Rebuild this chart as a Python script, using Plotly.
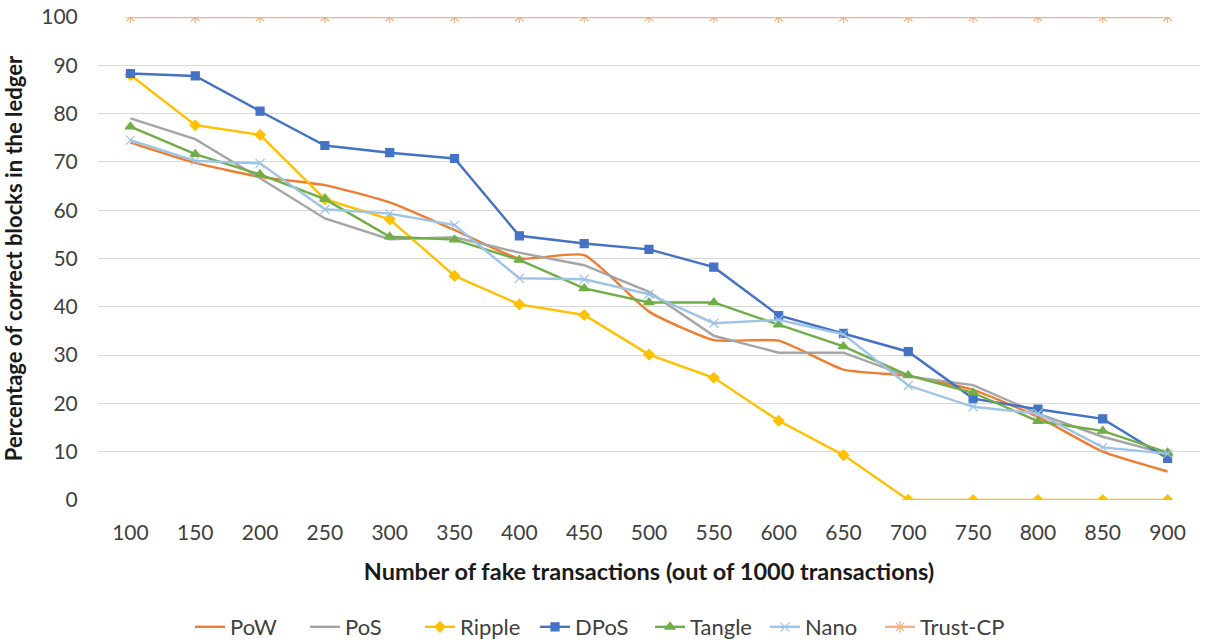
import plotly.graph_objects as go

x_vals = [100, 150, 200, 250, 300, 350, 400, 450, 500, 550, 600, 650, 700, 750, 800, 850, 900]
pow_vals = [74.0, 69.8, 66.9, 65.2, 61.6, 55.9, 50.0, 50.7, 39.0, 33.1, 33.0, 27.0, 25.7, 22.8, 17.2, 10.0, 5.9]
pos_vals = [79.0, 74.7, 66.6, 58.3, 54.0, 54.4, 51.2, 48.6, 43.1, 34.0, 30.5, 30.5, 25.6, 23.8, 17.9, 13.1, 9.5]
ripple_vals = [88.0, 77.6, 75.6, 62.3, 58.1, 46.4, 40.5, 38.3, 30.1, 25.3, 16.4, 9.3, 0, 0, 0, 0, 0]
dpos_vals = [88.3, 87.8, 80.5, 73.4, 71.9, 70.7, 54.7, 53.1, 51.9, 48.2, 38.2, 34.5, 30.7, 21.0, 18.8, 16.8, 8.6]
tangle_vals = [77.3, 71.6, 67.4, 62.3, 54.5, 53.9, 49.7, 43.8, 40.9, 40.9, 36.3, 31.8, 25.8, 22.2, 16.3, 14.3, 9.8]
nano_vals = [74.5, 70.2, 69.7, 60.2, 59.3, 56.9, 45.9, 45.7, 42.6, 36.6, 37.3, 34.3, 23.7, 19.3, 17.9, 10.9, 9.6]
trust_vals = [100] * 17

series = [
    ("PoW", pow_vals, "#ED7D31", None, 0, "spline"),
    ("PoS", pos_vals, "#A5A5A5", None, 0, "linear"),
    ("Ripple", ripple_vals, "#FFC000", "diamond", 8, "linear"),
    ("DPoS", dpos_vals, "#4472C4", "square", 8, "linear"),
    ("Tangle", tangle_vals, "#70AD47", "triangle-up", 9, "linear"),
    ("Nano", nano_vals, "#9DC3E6", "x-thin-open", 9, "linear"),
    ("Trust-CP", trust_vals, "#F4B183", "asterisk-open", 10, "linear"),
]

fig = go.Figure()
for name, vals, color, sym, size, shape in series:
    mode = "lines+markers" if sym else "lines"
    marker = dict(symbol=sym, size=size, color=color, line=dict(color=color, width=1.2)) if sym else None
    fig.add_trace(go.Scatter(
        x=x_vals, y=vals, name=name, mode=mode,
        line=dict(color=color, width=2.4, shape=shape, smoothing=0.5 if shape == "spline" else None),
        marker=marker,
    ))

# empty spacer legend entry so the last real entry is not clipped
fig.add_trace(go.Scatter(x=[None], y=[None], name=" ", mode="lines",
                         line=dict(color="rgba(0,0,0,0)", width=0), hoverinfo="skip"))

font_family = "Lato, 'Open Sans', sans-serif"
fig.update_layout(
    width=1209, height=643,
    margin=dict(l=98, r=9, t=17, b=143, autoexpand=False),
    plot_bgcolor="white", paper_bgcolor="white",
    font=dict(family=font_family, size=21, color="#404040"),
    xaxis=dict(
        range=[75, 925], tickmode="array", tickvals=x_vals,
        ticktext=[str(v) for v in x_vals],
        showgrid=False, zeroline=False, showline=False, automargin=False,
        tickfont=dict(size=21, color="#404040"), ticks="outside", ticklen=14, tickcolor="rgba(0,0,0,0)",
        ticklabeloverflow="allow",
        title=dict(text="<b>Number of fake transactions (out of 1000 transactions)</b>",
                   font=dict(size=23.5, color="#1a1a1a"), standoff=20),
    ),
    yaxis=dict(
        range=[0, 100], tickmode="array", tickvals=list(range(0, 101, 10)),
        showgrid=True, gridcolor="#D9D9D9", gridwidth=1.4,
        zeroline=False, showline=False, automargin=False,
        tickfont=dict(size=21, color="#404040"), ticks="outside", ticklen=15, tickcolor="rgba(0,0,0,0)",
        ticklabeloverflow="allow",
        title=dict(text="<b>Percentage of correct blocks in the ledger</b>",
                   font=dict(size=22, color="#1a1a1a"), standoff=20),
    ),
    legend=dict(
        orientation="h", x=0.0835, xanchor="left", y=-0.263, yanchor="middle",
        font=dict(size=22, color="#404040"), itemwidth=30, traceorder="normal",
        entrywidth=70, entrywidthmode="pixels",
    ),
)

fig.write_html("out.html", config={"displayModeBar": False},
               post_script="document.body.style.margin='0px';document.body.style.overflow='hidden';")
